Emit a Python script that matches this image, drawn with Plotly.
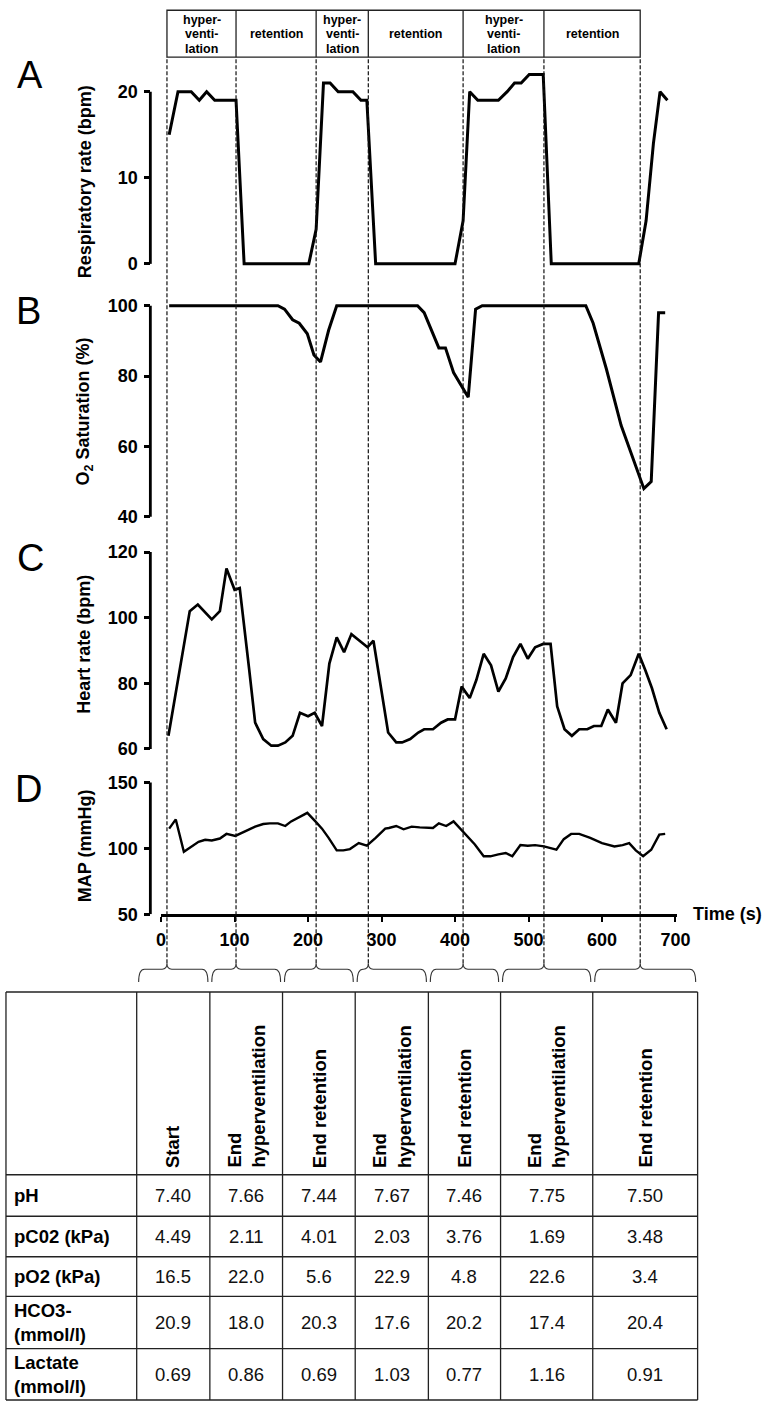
import plotly.graph_objects as go

# ---------------- data ----------------
phase_times = [8, 102, 211, 282, 411, 521, 652]
phase_labels = [["hyper-", "venti-", "lation"], ["retention"], ["hyper-", "venti-", "lation"],
                ["retention"], ["hyper-", "venti-", "lation"], ["retention"]]

resp_t = [11, 23, 41, 52, 62, 73, 102, 113, 201, 211, 221, 230, 241, 261, 272, 280,
          292, 400, 411, 420, 431, 459, 471, 481, 490, 501, 520, 531, 650, 660, 670, 679, 689]
resp_v = [15, 20, 20, 19, 20, 19, 19, 0, 0, 4, 21, 21, 20, 20, 19, 19,
          0, 0, 5, 20, 19, 19, 20, 21, 21, 22, 22, 0, 0, 5, 14, 20, 19]

sat_t = [11, 159, 168, 179, 188, 199, 208, 217, 228, 239, 349, 358, 378, 387, 398, 407,
         418, 428, 437, 578, 588, 606, 626, 657, 667, 677, 686]
sat_v = [100, 100, 99, 96, 95, 92, 86, 84, 93, 100, 100, 98, 88, 88, 81, 78,
         74, 99, 100, 100, 95, 82, 66, 48, 50, 98, 98]

hr_t = [10, 39, 50, 69, 80, 89, 100, 107, 120, 128, 139, 150, 159, 169, 179, 189, 200, 209,
        219, 229, 239, 249, 259, 281, 289, 309, 320, 328, 339, 350, 358, 370, 381, 390, 400,
        409, 420, 429, 439, 449, 459, 469, 479, 489, 499, 509, 520, 530, 539, 549, 559, 569,
        580, 589, 599, 608, 619, 628, 639, 650, 659, 668, 678, 688]
hr_v = [64, 102, 104, 99.5, 102, 115, 108.5, 109, 84, 68, 63, 61, 61, 62, 64, 71, 70, 71,
        67, 86, 94, 89.5, 95, 91, 93, 65, 62, 62, 63, 65, 66, 66, 68, 69, 69,
        79, 75.5, 81, 89, 85.5, 77.5, 81.5, 88, 92, 87.5, 91, 92, 92, 73, 66, 64, 66,
        66, 67, 67, 72, 68, 80, 82.5, 89, 84, 78.5, 71, 66]

map_t = [11, 20, 31, 41, 51, 60, 69, 80, 89, 101, 115, 128, 139, 148, 159, 169, 177, 199,
         210, 219, 228, 239, 248, 257, 269, 280, 292, 305, 310, 320, 330, 341, 352, 370,
         378, 388, 398, 409, 427, 439, 448, 459, 469, 478, 489, 499, 509, 521, 538, 548,
         558, 569, 584, 600, 617, 628, 637, 646, 656, 667, 678, 686]
map_v = [115, 122, 97.5, 101.5, 105, 106.5, 106, 107.5, 111, 109.5, 113, 116.5, 118.5, 119,
         119, 117, 120.5, 127, 120.5, 115, 108, 98.5, 98.5, 99.5, 104, 102, 108, 115, 115.5,
         117, 114.5, 116.5, 116, 115.5, 119, 117, 120.5, 114, 103, 94, 94, 95.5, 96.5, 94,
         102.5, 102, 102.5, 101.5, 99, 107, 111, 111, 108, 104, 101.5, 102.5, 104, 98.5, 94,
         99, 110.5, 111]

time_ticks = [0, 100, 200, 300, 400, 500, 600, 700]
resp_ticks = [0, 10, 20]
sat_ticks = [40, 60, 80, 100]
hr_ticks = [60, 80, 100, 120]
map_ticks = [50, 100, 150]

y_titles = ["Respiratory rate (bpm)", "O<sub>2</sub> Saturation (%)", "Heart rate (bpm)", "MAP (mmHg)"]
panel_letters = ["A", "B", "C", "D"]

table_cols = ["Start", "End<br>hyperventilation", "End retention", "End<br>hyperventilation",
              "End retention", "End<br>hyperventilation", "End retention"]
table_rows = ["pH", "pC02 (kPa)", "pO2 (kPa)", "HCO3-<br>(mmol/l)", "Lactate<br>(mmol/l)"]
ph = [7.40, 7.66, 7.44, 7.67, 7.46, 7.75, 7.50]
pco2 = [4.49, 2.11, 4.01, 2.03, 3.76, 1.69, 3.48]
po2 = [16.5, 22.0, 5.6, 22.9, 4.8, 22.6, 3.4]
hco3 = [20.9, 18.0, 20.3, 17.6, 20.2, 17.4, 20.4]
lactate = [0.69, 0.86, 0.69, 1.03, 0.77, 1.16, 0.91]
row_decimals = [2, 2, 1, 1, 2]

# ---------------- geometry (pixels) ----------------
W, H = 776, 1412
FONT = "Liberation Sans, Arial, Helvetica, sans-serif"


def fx(px):
    return px / W


def fy(py):
    return 1 - py / H


X0 = 160.0
PPX = (687.3 - 160.0) / 700.0
XMAX = 702


def tpx(t):
    return X0 + t * PPX


# panel: (ticks, lo_val, lo_py, hi_val, hi_py, range)
panels = [
    (resp_ticks, 0, 260.0, 20, 85.7, [-0.6, 23]),
    (sat_ticks, 40, 516.0, 100, 302.3, [38, 102]),
    (hr_ticks, 60, 751.0, 120, 551.7, [58.5, 121.5]),
    (map_ticks, 50, 918.3, 150, 785.0, [50, 152]),
]
series = [(resp_t, resp_v, 3.0), (sat_t, sat_v, 3.0), (hr_t, hr_v, 2.7), (map_t, map_v, 2.4)]
title_y = [177, 410, 645, 849]
letter_pos = [(25.5, 69), (24, 307.5), (26, 557.5), (24.5, 791.5)]
YAX_PX = 149.0


def vpy(p, v):
    _, lv, lp, hv, hp, _ = p
    return lp + (v - lv) * (hp - lp) / (hv - lv)


def sfx(i):
    return "" if i == 1 else str(i)


fig = go.Figure()
layout = dict(width=W, height=H, margin=dict(l=0, r=0, t=0, b=0), autosize=False,
              paper_bgcolor="white", plot_bgcolor="rgba(0,0,0,0)", showlegend=False,
              font=dict(family=FONT, color="black"))
shapes = []
annotations = []

for i, (p, s) in enumerate(zip(panels, series), start=1):
    t, v, lw = s
    fig.add_trace(go.Scatter(x=t, y=v, mode="lines", line=dict(color="black", width=lw),
                             xaxis="x" + sfx(i), yaxis="y" + sfx(i), hoverinfo="skip"))
    rng = p[5]
    dom = [fy(vpy(p, rng[0])), fy(vpy(p, rng[1]))]
    layout["xaxis" + sfx(i)] = dict(
        domain=[fx(X0), fx(tpx(XMAX))], range=[0, XMAX], anchor="y" + sfx(i),
        visible=(i == 4), showgrid=False, zeroline=False,
        showline=True, linewidth=2.6, linecolor="black",
        ticks="outside", ticklen=5, tickwidth=2.4, tickcolor="black",
        ticklabelstandoff=2,
        tickvals=time_ticks, ticktext=[str(x) for x in time_ticks],
        tickfont=dict(family=FONT, size=18, color="black", weight="bold"))
    layout["yaxis" + sfx(i)] = dict(
        domain=dom, range=rng, anchor="free", position=fx(YAX_PX),
        showgrid=False, zeroline=False, showline=False,
        ticks="outside", ticklen=6, tickwidth=2.6, tickcolor="black",
        ticklabelstandoff=3,
        tickvals=p[0], ticktext=[str(x) for x in p[0]],
        tickfont=dict(family=FONT, size=18, color="black", weight="bold"))
    # y axis line between first and last tick
    shapes.append(dict(type="line", xref="paper", yref="y" + sfx(i),
                       x0=fx(YAX_PX), x1=fx(YAX_PX), y0=p[0][0], y1=p[0][-1],
                       line=dict(color="black", width=2.8)))
    annotations.append(dict(text=y_titles[i - 1], xref="paper", yref="paper",
                            x=fx(81.5), y=fy(title_y[i - 1]), textangle=-90,
                            showarrow=False, xanchor="center", yanchor="middle",
                            font=dict(family=FONT, size=18, color="black", weight="bold")))
    lx, ly = letter_pos[i - 1]
    annotations.append(dict(text=panel_letters[i - 1], xref="paper", yref="paper",
                            x=fx(lx), y=fy(ly), showarrow=False, xanchor="center",
                            yanchor="middle", font=dict(family=FONT, size=38, color="black")))

annotations.append(dict(text="Time (s)", xref="paper", yref="paper", x=fx(703), y=fy(918),
                        showarrow=False, xanchor="left", yanchor="middle",
                        font=dict(family=FONT, size=18, color="black", weight="bold")))

# phase boundary dashed lines
for t in phase_times:
    shapes.append(dict(type="line", xref="x", yref="paper", x0=t, x1=t,
                       y0=fy(968), y1=fy(50.7), layer="above",
                       line=dict(color="#111", width=1.2, dash="4px,2px")))

# header box with phase names
shapes.append(dict(type="rect", xref="x", yref="paper", x0=phase_times[0], x1=phase_times[-1],
                   y0=fy(50.7), y1=fy(3.3), line=dict(color="#222", width=1.3)))
for t in phase_times[1:-1]:
    shapes.append(dict(type="line", xref="x", yref="paper", x0=t, x1=t, y0=fy(50.7), y1=fy(3.3),
                       line=dict(color="#222", width=1.3)))
for k, lines in enumerate(phase_labels):
    xc = (phase_times[k] + phase_times[k + 1]) / 2
    ys = [27.5] if len(lines) == 1 else [13.3, 27.8, 42.4]
    for txt, yy in zip(lines, ys):
        annotations.append(dict(text=txt, xref="x", yref="paper", x=xc, y=fy(yy),
                                showarrow=False, xanchor="center", yanchor="middle",
                                font=dict(family=FONT, size=12.5, color="black", weight="bold")))

# table grid
col_x = [1, 135, 210, 284.5, 359, 434, 508, 602.5, 710]
row_y = [997, 1182, 1224, 1265, 1305, 1358, 1410]
TL = dict(color="#222", width=1.3)
for yy in row_y:
    shapes.append(dict(type="line", xref="paper", yref="paper", x0=fx(col_x[0]), x1=fx(col_x[-1]),
                       y0=fy(yy), y1=fy(yy), line=TL))
for xx in col_x:
    shapes.append(dict(type="line", xref="paper", yref="paper", x0=fx(xx), x1=fx(xx),
                       y0=fy(row_y[0]), y1=fy(row_y[-1]), line=TL))


def P(px, py):
    return f"{fx(px):.5f},{fy(py):.5f}"


# braces linking phase boundaries to table columns
for k, t in enumerate(phase_times):
    xl, xr, xt = col_x[k + 1] + 2, col_x[k + 2] - 2, tpx(t)
    path = (f"M {P(xl, 987)} Q {P(xl, 974)} {P(xl + 6, 974)} L {P(xt - 5, 974)} "
            f"Q {P(xt, 974)} {P(xt, 968)} Q {P(xt, 974)} {P(xt + 5, 974)} "
            f"L {P(xr - 6, 974)} Q {P(xr, 974)} {P(xr, 987)}")
    shapes.append(dict(type="path", xref="paper", yref="paper", path=path,
                       line=dict(color="#333", width=1.1)))

for k, lab in enumerate(table_cols):
    xc = (col_x[k + 1] + col_x[k + 2]) / 2
    annotations.append(dict(text=lab, xref="paper", yref="paper", x=fx(xc), y=fy(1177),
                            textangle=-90, showarrow=False, xanchor="center", yanchor="bottom",
                            align="left",
                            font=dict(family=FONT, size=18.5, color="black", weight="bold")))

table_vals = [ph, pco2, po2, hco3, lactate]
for r, (lab, vals, dec) in enumerate(zip(table_rows, table_vals, row_decimals)):
    yc = (row_y[r + 1] + row_y[r + 2]) / 2
    annotations.append(dict(text=lab, xref="paper", yref="paper", x=fx(7), y=fy(yc),
                            showarrow=False, xanchor="left", yanchor="middle", align="left",
                            font=dict(family=FONT, size=18.5, color="black", weight="bold")))
    for c, val in enumerate(vals):
        xc = (col_x[c + 1] + col_x[c + 2]) / 2
        annotations.append(dict(text=f"{val:.{dec}f}", xref="paper", yref="paper",
                                x=fx(xc), y=fy(yc), showarrow=False, xanchor="center",
                                yanchor="middle",
                                font=dict(family=FONT, size=18.5, color="#111")))

layout["shapes"] = shapes
layout["annotations"] = annotations
fig.update_layout(**layout)
fig.write_html("out.html", config={"responsive": False, "displayModeBar": False},
               post_script="document.body.style.margin='0';document.body.style.overflow='hidden';")
